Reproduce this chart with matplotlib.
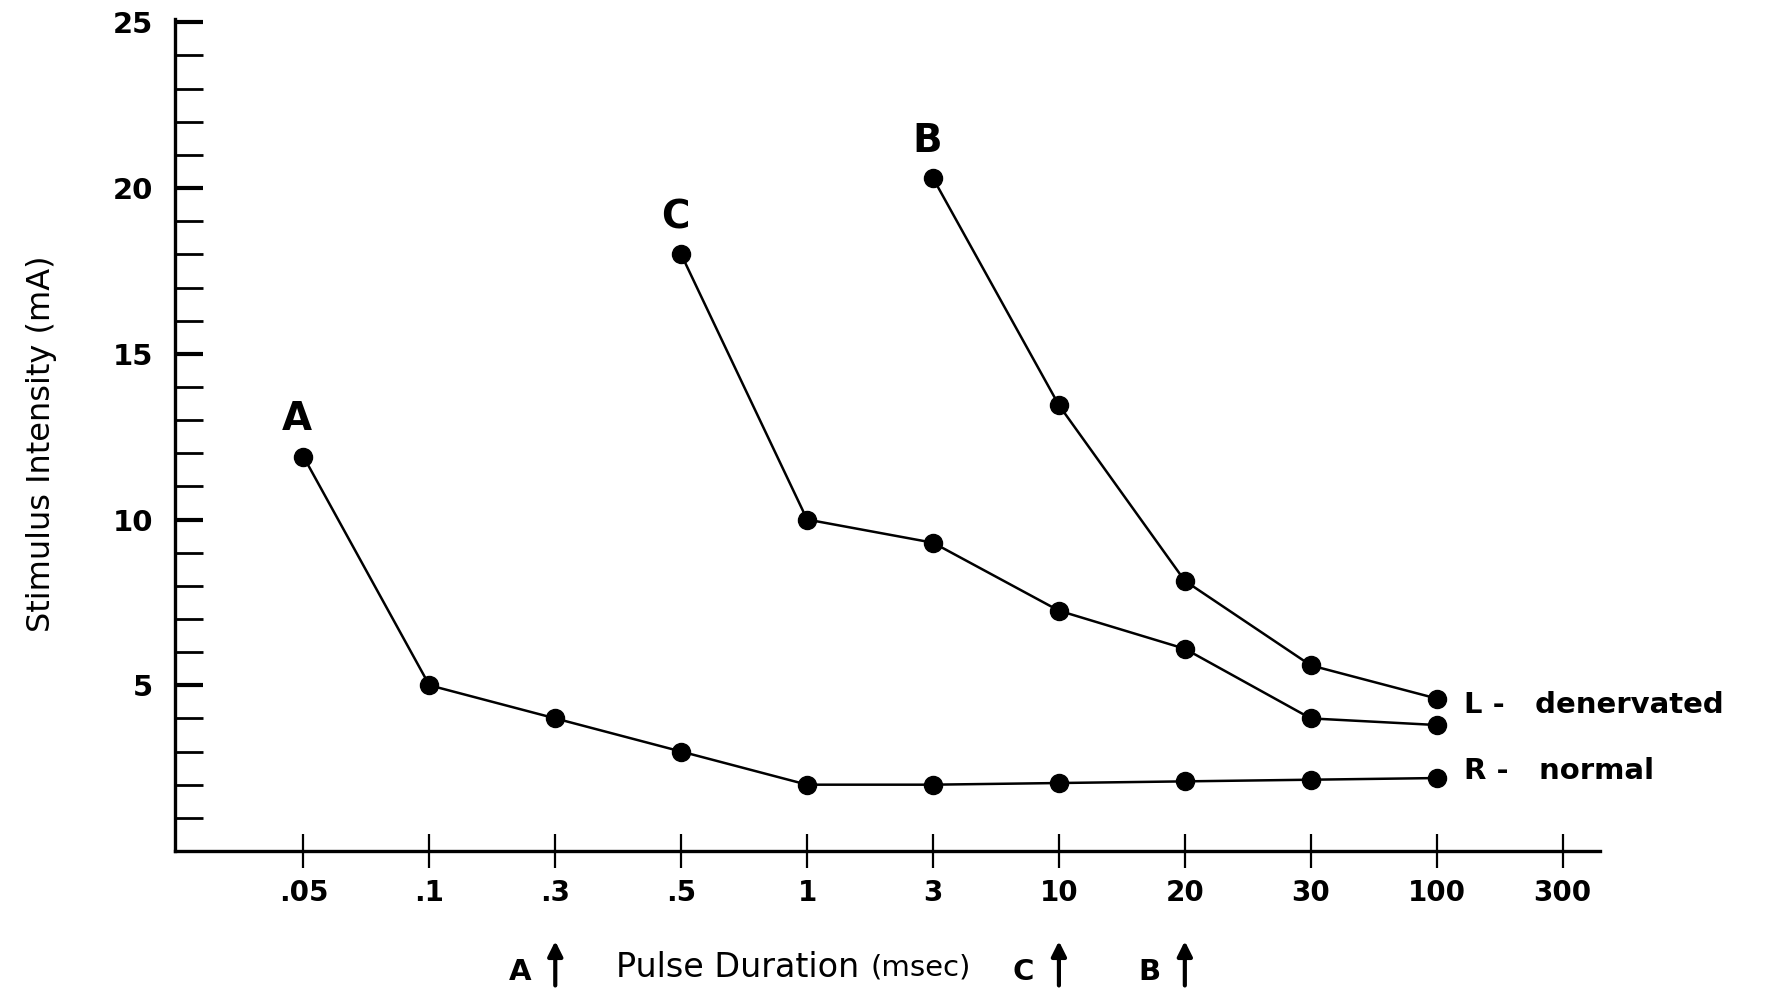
import matplotlib
matplotlib.use("Agg")
import matplotlib.pyplot as plt
from matplotlib.ticker import MultipleLocator, FixedLocator

# pulse durations (msec), evenly spaced categories on the x axis
pulse_labels = ['.05', '.1', '.3', '.5', '1', '3', '10', '20', '30', '100', '300']

# R - normal (curve A)
normal_x = ['.05', '.1', '.3', '.5', '1', '3', '10', '20', '30', '100']
normal_y = [11.9, 5.0, 4.0, 3.0, 2.0, 2.0, 2.05, 2.1, 2.15, 2.2]

# L - denervated, curve C
curve_c_x = ['.5', '1', '3', '10', '20', '30', '100']
curve_c_y = [18.0, 10.0, 9.3, 7.25, 6.1, 4.0, 3.8]

# L - denervated, curve B
curve_b_x = ['3', '10', '20', '30', '100']
curve_b_y = [20.3, 13.45, 8.15, 5.6, 4.6]

# chronaxie markers under the x axis
arrow_marks = [('A', '.3'), ('C', '10'), ('B', '20')]

pos = {lab: i for i, lab in enumerate(pulse_labels)}

fig = plt.figure(figsize=(17.75, 9.91), dpi=100)
ax = fig.add_axes([0.0986, 0.1413, 0.803, 0.8395])

series = [(normal_x, normal_y, 'A'), (curve_c_x, curve_c_y, 'C'), (curve_b_x, curve_b_y, 'B')]
for xs, ys, name in series:
    xi = [pos[v] for v in xs]
    ax.plot(xi, ys, color='black', linewidth=1.8, marker='o', markersize=13,
            markerfacecolor='black', markeredgecolor='black', clip_on=False)
    ax.text(xi[0] - 0.05, ys[0] + 0.55, name, ha='center', va='bottom',
            fontsize=28, fontweight='bold', family='DejaVu Sans')

# labels at the right end of the curves
ax.text(pos['100'] + 0.22, curve_b_y[-1] - 0.2, 'L -   denervated', ha='left', va='center',
        fontsize=21, fontweight='bold')
ax.text(pos['100'] + 0.22, normal_y[-1] + 0.2, 'R -   normal', ha='left', va='center',
        fontsize=21, fontweight='bold')

ax.set_xlim(-1.02, 10.3)
ax.set_ylim(0, 25.1)

for side in ['top', 'right']:
    ax.spines[side].set_visible(False)
ax.spines['left'].set_linewidth(2.4)
ax.spines['bottom'].set_linewidth(2.4)

ax.set_xticks(range(len(pulse_labels)))
ax.set_xticklabels(pulse_labels, fontsize=20, fontweight='bold')
ax.tick_params(axis='x', direction='inout', length=24, width=1.6, pad=8)

ax.yaxis.set_major_locator(FixedLocator([5, 10, 15, 20, 25]))
ax.yaxis.set_minor_locator(MultipleLocator(1))
ax.set_yticklabels(['5', '10', '15', '20', '25'], fontsize=21, fontweight='bold')
ax.tick_params(axis='y', which='major', direction='in', length=20, width=3, pad=16)
ax.tick_params(axis='y', which='minor', direction='in', length=20, width=2)

ax.set_ylabel('Stimulus Intensity (mA)', fontsize=23)
ax.yaxis.set_label_coords(-0.083, 0.49)

# x axis caption with arrows
tr = ax.get_xaxis_transform()
ax.text(2.48, -0.14, 'Pulse Duration', transform=tr, ha='left', va='center', fontsize=24)
ax.text(4.5, -0.14, '(msec)', transform=tr, ha='left', va='center', fontsize=21)
for letter, at in arrow_marks:
    xa = pos[at]
    ax.annotate('', xy=(xa, -0.105), xytext=(xa, -0.165), xycoords=tr, textcoords=tr,
                arrowprops=dict(arrowstyle='-|>', color='black', lw=3, mutation_scale=22),
                annotation_clip=False)
    ax.text(xa - 0.28, -0.145, letter, transform=tr, ha='center', va='center',
            fontsize=21, fontweight='bold')

fig.savefig('out.png', dpi=100, facecolor='white')
